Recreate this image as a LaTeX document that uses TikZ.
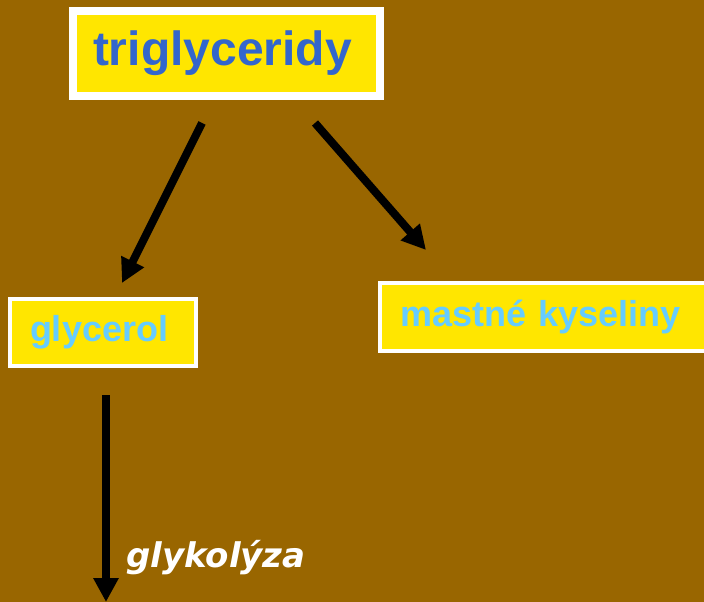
\documentclass[tikz,border=0pt]{standalone}
\usepackage{fontspec}
\setmainfont{Liberation Sans}
\newfontfamily\dejavu{DejaVu Sans}
\usepackage{tikz}
\usetikzlibrary{arrows.meta,positioning}
\definecolor{hneda}{HTML}{996600}
\definecolor{zluta}{HTML}{FFE600}
\definecolor{modra}{HTML}{3366CC}
\definecolor{svmodra}{HTML}{66CCFF}

\begin{document}
\begin{tikzpicture}[x=1pt, y=-1pt,
    blok/.style={draw=white, fill=zluta, rectangle, inner xsep=20pt, inner ysep=0pt,
                 align=left, font=\bfseries},
    sipka/.style={black, line width=8pt, -{Triangle[length=24pt, width=24pt]}}]
% Pozadi
\clip (0,0) rectangle (704,602);
\fill[hneda] (0,0) rectangle (704,602);

% Bloky
\node[blok, line width=8pt, text width=267pt, minimum height=85pt, text=modra,
      font=\bfseries\fontsize{48}{52}\selectfont] (trig) at (226.5,53.5) {triglyceridy};
\node[blok, line width=4pt, text width=146pt, minimum height=67pt, text=svmodra,
      font=\bfseries\fontsize{36}{40}\selectfont] (glyc) at (103,332.5) {glycerol};
\node[blok, line width=4pt, text width=300pt, minimum height=68pt, text=svmodra, anchor=west,
      font=\bfseries\fontsize{36}{40}\selectfont] (mk) at (378,317) {mastné kyseliny};

% Konce sipek
\coordinate (t1) at (202,123);
\coordinate (g1) at (122,283);
\coordinate (t2) at (315,123);
\coordinate (m1) at (426,250);
\coordinate (g2) at (106,395);
\coordinate (g3) at (106,602);

% Sipky
\draw[sipka] (t1) -- (g1);
\draw[sipka] (t2) -- (m1);
\draw[sipka] (g2) -- (g3);

% Popisek
\node[anchor=base west, inner sep=0pt, text=white,
      font=\dejavu\bfseries\itshape\fontsize{34}{38}\selectfont] (glyk) at (126,567) {glykolýza};

\end{tikzpicture}
\end{document}
